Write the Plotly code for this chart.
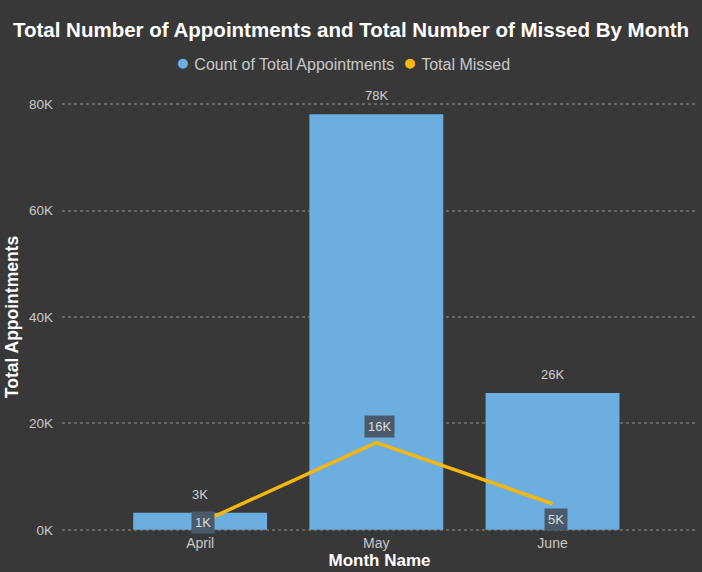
import plotly.graph_objects as go

months = ["April", "May", "June"]
appointments = [3200, 78100, 25700]
missed = [1300, 16400, 4900]
appt_labels = ["3K", "78K", "26K"]
missed_labels = ["1K", "16K", "5K"]
y_ticks = [0, 20000, 40000, 60000, 80000]
y_tick_text = ["0K", "20K", "40K", "60K", "80K"]
missed_label_shift = [0, 16, -16]

BG = "#383838"
BAR = "#6caee0"
LINE = "#f6b80f"
FONT = "Liberation Sans"

fig = go.Figure()
fig.add_trace(go.Bar(
    x=months, y=appointments, width=0.76, marker=dict(color=BAR, line=dict(width=0)),
    showlegend=False, hoverinfo="x+y",
))
fig.add_trace(go.Scatter(
    x=months, y=missed, mode="lines", line=dict(color=LINE, width=3.5), showlegend=False,
))

for m, v, t in zip(months, appointments, appt_labels):
    fig.add_annotation(x=m, y=v, text=t, showarrow=False, yanchor="bottom", yshift=9,
                       font=dict(color="#cfcfcf", size=13, family=FONT))

for m, v, t, s in zip(months, missed, missed_labels, missed_label_shift):
    fig.add_annotation(x=m, y=v, text=t, showarrow=False, yshift=s, xshift=3,
                       font=dict(color="#dcdcdc", size=13, family=FONT),
                       bgcolor="#4a5a6a", borderpad=3)

# legend drawn as text
fig.add_annotation(
    xref="paper", yref="paper", x=0.443, y=1.091, xanchor="center", yanchor="middle", showarrow=False,
    text=(f"<span style='color:{BAR};font-size:23px'>●</span> Count of Total Appointments  "
          f"<span style='color:{LINE};font-size:23px'>●</span> Total Missed"),
    font=dict(color="#c8c8c8", size=16, family=FONT),
)

fig.update_layout(
    width=702, height=572,
    paper_bgcolor=BG, plot_bgcolor=BG,
    margin=dict(l=62, r=5, t=101, b=39),
    showlegend=False,
    title=dict(text="<b>Total Number of Appointments and Total Number of Missed By Month</b>",
               x=0.5, xanchor="center", y=0.947, yanchor="middle",
               font=dict(color="white", size=20.5, family=FONT)),
    xaxis=dict(range=[-0.784, 2.82], showgrid=False, zeroline=False, showline=False,
               tickfont=dict(color="#c8c8c8", size=14, family=FONT), ticks="",
               title=dict(text="<b>Month Name</b>", font=dict(color="white", size=17, family=FONT), standoff=3)),
    yaxis=dict(range=[-600, 80600], tickvals=y_ticks, ticktext=y_tick_text,
               showgrid=True, gridcolor="#666666", griddash="dot", gridwidth=1.5,
               zeroline=False, showline=False, ticks="", ticklabelstandoff=8,
               tickfont=dict(color="#c8c8c8", size=13.5, family=FONT),
               title=dict(text="<b>Total Appointments</b>", font=dict(color="white", size=17.5, family=FONT), standoff=5)),
)

fig.write_html("out.html", config={"displayModeBar": False},
               post_script="document.body.style.margin='0';")
